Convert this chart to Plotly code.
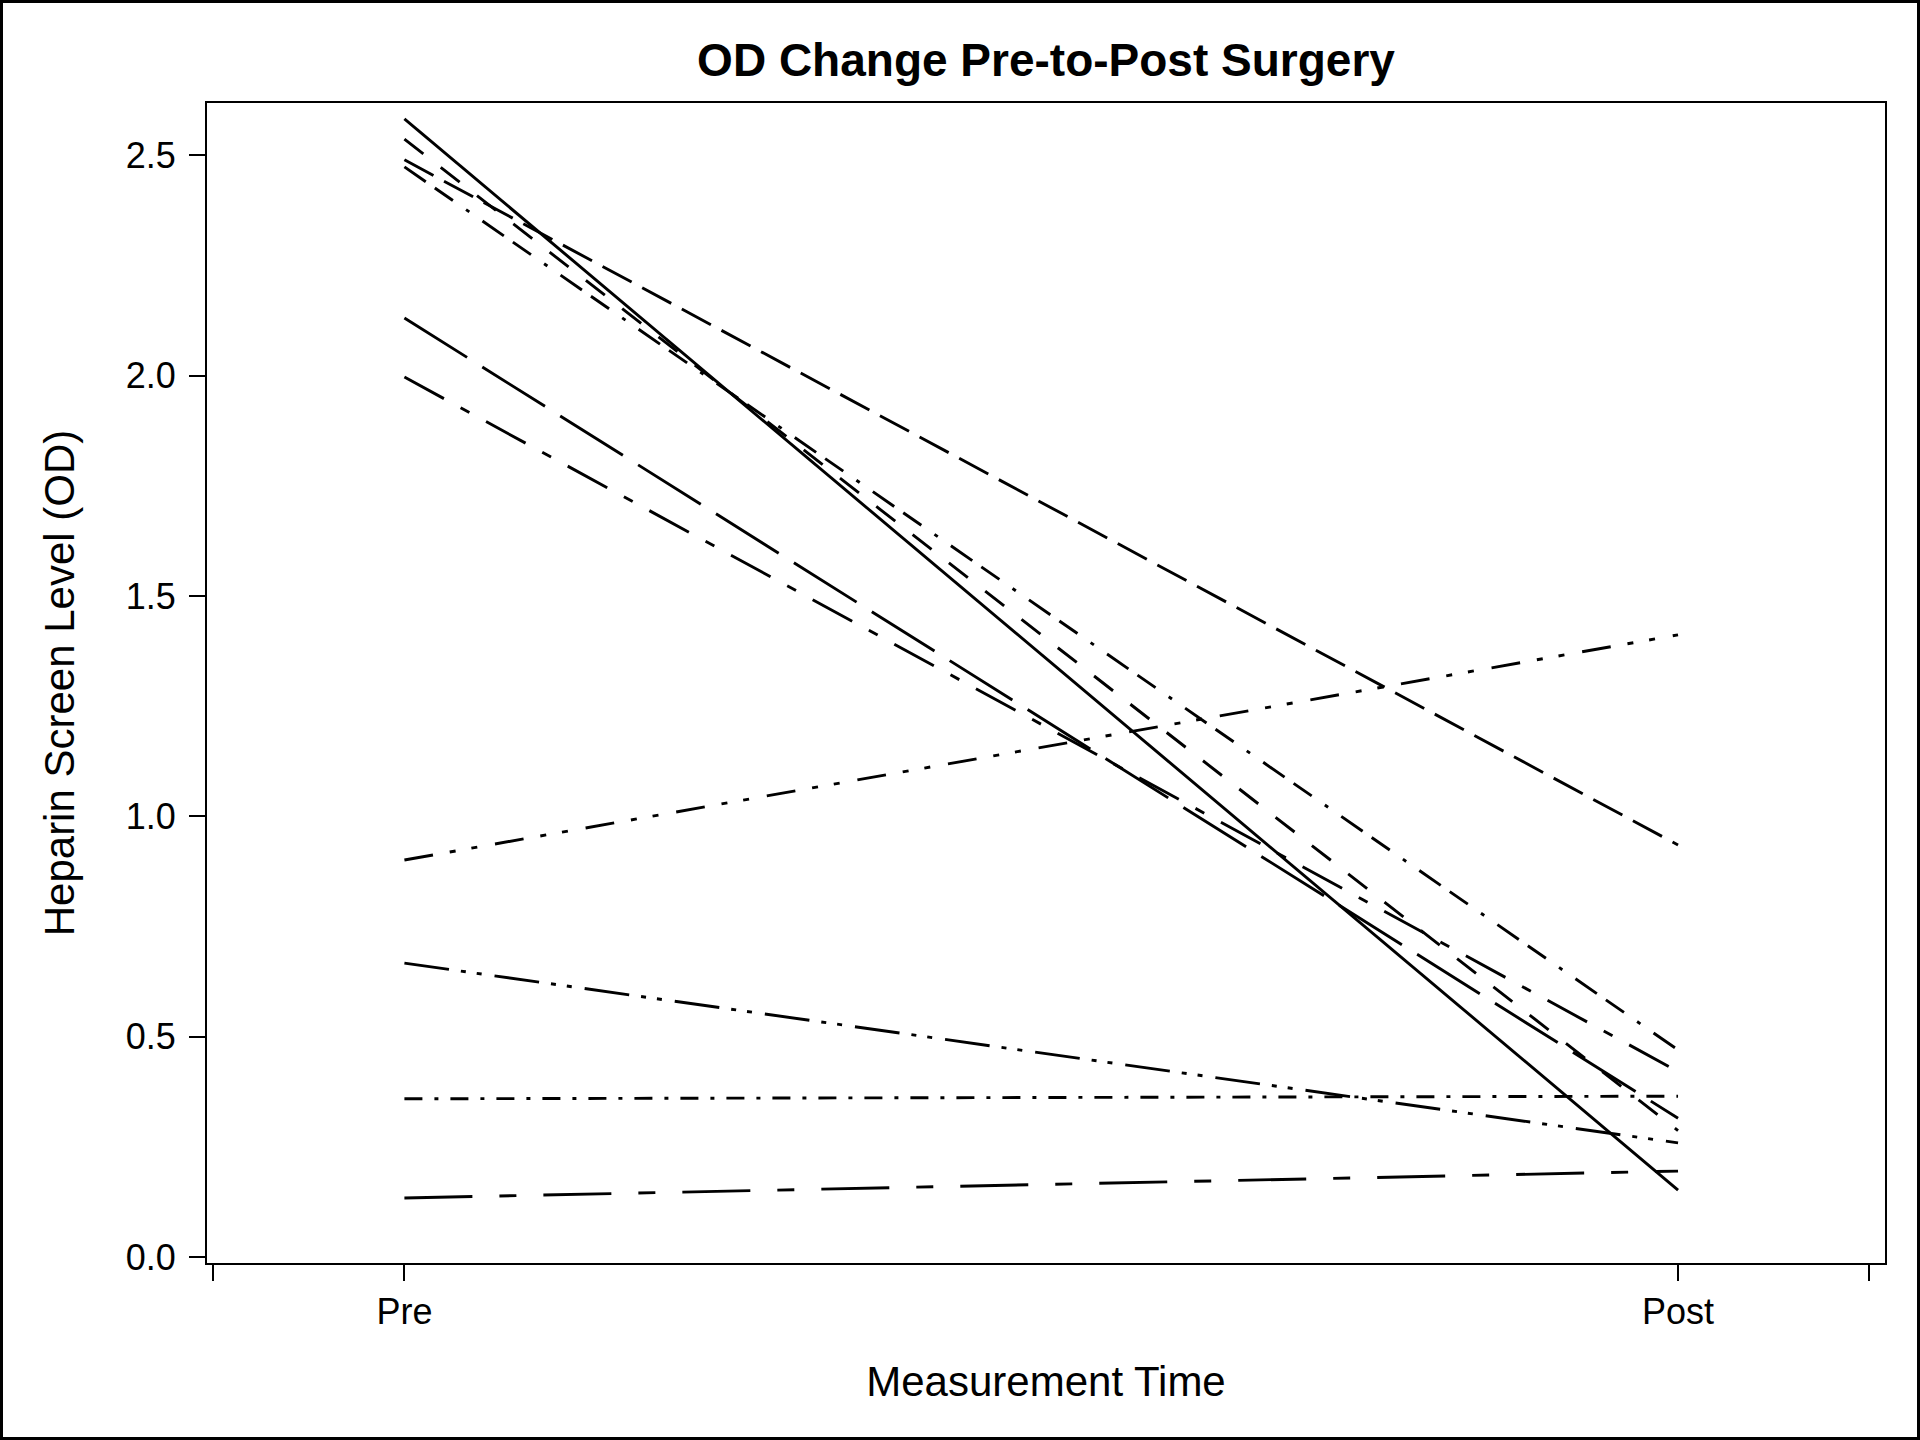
import plotly.graph_objects as go

# ---- data ----
time_labels = ["Pre", "Post"]
time_positions = [1, 2]

pre_values = [2.583, 2.537, 2.490, 2.474, 2.131, 1.997, 0.901, 0.667, 0.359, 0.134]
post_values = [0.152, 0.287, 0.935, 0.470, 0.315, 0.421, 1.412, 0.259, 0.365, 0.195]

line_dashes = [
    "solid",
    "24px,22px",                          # short dash
    "33px,12px",                          # medium dash
    "26px,11px,22px,16px,4px,16px",       # dash dash dot
    "74px,18px",                          # long dash
    "45px,19px,10px,19px",                # long dash short dash
    "29px,17px,6px,16px,6px,18px",        # dash dot dot
    "45px,12px,5px,11px,5px,13px",        # long dash dot dot
    "18px,12px,4px,12px",                 # dash dot
    "68px,27px,17px,27px",                # long dash short dash (long)
]

y_tickvals = [0.0, 0.5, 1.0, 1.5, 2.0, 2.5]
x_tickvals = [0.85, 1, 2, 2.15]
x_ticktext = ["", time_labels[0], time_labels[1], ""]

FONT = "Liberation Sans, Arial, sans-serif"

fig = go.Figure()
for pre, post, dash in zip(pre_values, post_values, line_dashes):
    fig.add_trace(go.Scatter(
        x=time_positions, y=[pre, post], mode="lines",
        line=dict(color="black", width=2.9, dash=dash),
        showlegend=False, hoverinfo="skip",
    ))

fig.update_layout(
    width=1920, height=1440,
    margin=dict(l=207, r=35, t=103, b=177),
    paper_bgcolor="white", plot_bgcolor="white",
    font=dict(family=FONT, color="black"),
    title=dict(
        text="OD Change Pre-to-Post Surgery",
        font=dict(family=FONT, size=46, color="black", weight="bold"),
        x=0.5, xref="paper", xanchor="center",
        y=1 - 60 / 1440, yref="container", yanchor="middle",
    ),
    xaxis=dict(
        range=[0.845, 2.1625],
        tickmode="array", tickvals=x_tickvals, ticktext=x_ticktext,
        ticks="outside", ticklen=16, tickwidth=2, tickcolor="black",
        tickfont=dict(family=FONT, size=36, color="black"),
        showline=True, linewidth=2, linecolor="black", mirror=True,
        showgrid=False, zeroline=False,
        title=dict(text="Measurement Time",
                   font=dict(family=FONT, size=42, color="black"),
                   standoff=35),
    ),
    yaxis=dict(
        range=[-0.0136, 2.619],
        tickmode="array", tickvals=y_tickvals, tickformat=".1f",
        ticks="outside", ticklen=16, tickwidth=2, tickcolor="black",
        tickfont=dict(family=FONT, size=36, color="black"),
        ticklabelstandoff=6,
        showline=True, linewidth=2, linecolor="black", mirror=True,
        showgrid=False, zeroline=False,
        title=dict(text="Heparin Screen Level (OD)",
                   font=dict(family=FONT, size=42, color="black"),
                   standoff=38),
    ),
)

# outer border around whole image
fig.add_shape(type="rect", xref="paper", yref="paper",
              x0=(1.5 - 207) / 1678, x1=(1918.5 - 207) / 1678,
              y0=(1263 - 1438.5) / 1160, y1=(1263 - 1.5) / 1160,
              line=dict(color="black", width=3), fillcolor="rgba(0,0,0,0)",
              layer="above")

fig.write_html("out.html",
               config={"displayModeBar": False},
               post_script="document.body.style.margin='0';document.body.style.padding='0';")
